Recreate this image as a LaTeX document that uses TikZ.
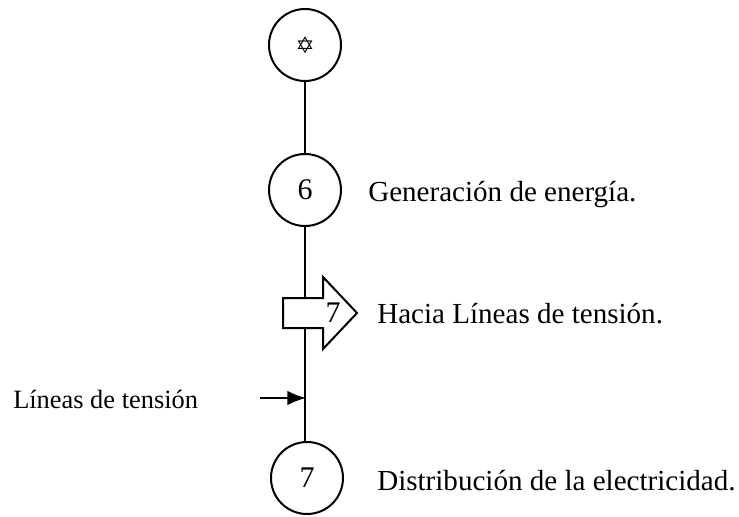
\documentclass[tikz,border=0pt]{standalone}
\usepackage{fontspec}
\usetikzlibrary{arrows.meta}
\setmainfont{Liberation Serif}
\newfontfamily\symfont{DejaVu Sans}
\begin{document}
\begin{tikzpicture}[x=0.75pt,y=-0.75pt,
  proc/.style={circle,draw,line width=1.5pt,minimum size=54pt,inner sep=0pt,fill=white,font=\fontsize{22.5}{27}\selectfont},
  lbl/.style={anchor=base west,inner sep=0pt,font=\fontsize{21.8}{26}\selectfont},
  conn/.style={line width=1.5pt}]
\useasboundingbox (0,0) rectangle (739,517);
\node[proc] (s) at (305,45) {\symfont\fontsize{17}{19}\selectfont ✡};
\node[proc] (g) at (305,190) {6};
\node[proc] (d) at (307,478) {7};
\draw[conn] (s) -- (g);
\draw[conn] (g.south) -- (g.south |- d.north);
% hollow arrow
\draw[line width=1.5pt,fill=white,line join=miter] (283,298) -- (323,298) -- (323,277) -- (357,313) -- (323,349) -- (323,328) -- (283,328) -- cycle;
\node[inner sep=0pt,font=\fontsize{22.5}{27}\selectfont] (a7) at (333,313) {7};
% side arrow
\coordinate (la) at (260,398);
\coordinate (lb) at (306,398);
\draw[line width=1.5pt,-{Latex[length=14pt,width=11pt]}] (la) -- (lb);
\node[anchor=base west,inner sep=0pt,font=\fontsize{19.8}{24}\selectfont] (lt) at (13,408) {Líneas de tensión};
\node[lbl] (tg) at (368,201) {Generación de energía.};
\node[lbl] (th) at (377,323) {Hacia Líneas de tensión.};
\node[lbl] (td) at (377,490) {Distribución de la electricidad.};
\end{tikzpicture}
\end{document}
